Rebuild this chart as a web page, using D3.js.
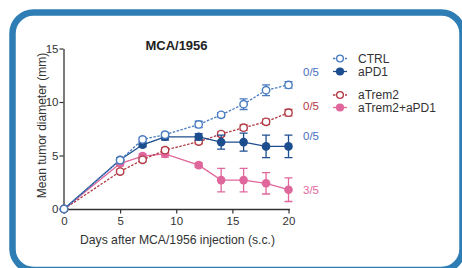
<!DOCTYPE html>
<html><head><meta charset="utf-8">
<script src="https://cdn.jsdelivr.net/npm/d3@7"></script>
<style>body{margin:0;background:#fff}svg{display:block}text{font-family:"Liberation Sans",Arial,sans-serif}</style>
</head><body><svg id="c" width="462" height="268"></svg>
<script>
const days = [0,5,7,9,12,14,16,18,20];
const seriesNames = ["CTRL","aPD1","aTrem2","aTrem2+aPD1"];
const ctrlMean = [0,4.55,6.5,6.95,7.9,8.8,9.8,11.1,11.6];
const ctrlErr  = [0,0.2,0.2,0.2,0.3,0.2,0.5,0.5,0.3];
const apd1Mean = [0,4.6,6.0,6.75,6.75,6.25,6.25,5.85,5.85];
const apd1Err  = [0,0.2,0.2,0.3,0.3,0.65,0.85,1.05,1.05];
const trem2Mean = [0,3.5,4.6,5.5,6.3,7.0,7.6,8.15,9.0];
const trem2Err  = [0,0.2,0.2,0.2,0.2,0.2,0.25,0.25,0.3];
const comboMean = [0,4.25,4.95,5.15,4.1,2.7,2.7,2.4,1.8];
const comboErr  = [0,0.2,0.2,0.3,0.2,1.1,1.1,1.0,1.1];
const fractions = ["0/5","0/5","0/5","3/5"];
const xTicks = [0,5,10,15,20];
const yTicks = [0,5,10,15];

const svg = d3.select("#c");
// frame
svg.append("rect").attr("x",12.5).attr("y",12.5).attr("width",450).attr("height",257.5)
  .attr("rx",21).attr("fill","#fff").attr("stroke","#2f7db5").attr("stroke-width",6.5);

const x = d3.scaleLinear().domain([0,20]).range([64,288.5]);
const y = d3.scaleLinear().domain([0,15]).range([209,48.5]);

const styles = [
  {name:seriesNames[0], mean:ctrlMean, err:ctrlErr, color:"#4a7cc0", open:true, dash:"2.5,1.5"},
  {name:seriesNames[1], mean:apd1Mean, err:apd1Err, color:"#1c4d8e", open:false, dash:null},
  {name:seriesNames[2], mean:trem2Mean, err:trem2Err, color:"#b23a45", open:true, dash:"2.5,1.5"},
  {name:seriesNames[3], mean:comboMean, err:comboErr, color:"#e0679c", open:false, dash:null}
];

// axes
const ax = svg.append("g").attr("transform","translate(0,209.5)")
  .call(d3.axisBottom(x).tickValues(xTicks).tickSize(4).tickSizeOuter(0).tickPadding(3));
const ay = svg.append("g").attr("transform","translate(63.5,0)")
  .call(d3.axisLeft(y).tickValues(yTicks).tickSize(4).tickSizeOuter(0).tickPadding(1));
[ax,ay].forEach(g=>{
  g.select(".domain").attr("stroke","#333").attr("stroke-width",1.3);
  g.selectAll(".tick line").attr("stroke","#333").attr("stroke-width",1.2);
  g.selectAll(".tick text").attr("fill","#333").style("font-size","11.5px");
});
ax.select(".domain").attr("d","M60,0H290");

const line = d3.line().x((d,i)=>x(days[i])).y(d=>y(d));
const order = [3,2,1,0];
order.forEach(k=>{
  const s = styles[k];
  const g = svg.append("g");
  g.append("path").attr("d",line(s.mean)).attr("fill","none").attr("stroke",s.color)
    .attr("stroke-width",1.3).attr("stroke-dasharray",s.dash);
  s.mean.forEach((m,i)=>{
    const e = s.err[i]; if(!e) return;
    const cx = x(days[i]);
    g.append("path").attr("d",`M${cx-4},${y(m+e)}H${cx+4}M${cx},${y(m+e)}V${y(m-e)}M${cx-4},${y(m-e)}H${cx+4}`)
      .attr("stroke",s.color).attr("stroke-width",1.3).attr("fill","none");
  });
  g.selectAll("circle").data(s.mean).join("circle")
    .attr("cx",(d,i)=>x(days[i])).attr("cy",d=>y(d)).attr("r",s.open?3.7:4.3)
    .attr("fill",s.open?"#fff":s.color).attr("stroke",s.color).attr("stroke-width",s.open?1.4:0);
});

// fraction labels
const fracPos = [{y:11.6+1.2, c:"#4a6fbd"},{y:9.0+0.6, c:"#b23a45"},{y:5.85+0.95, c:"#4a6fbd"},{y:1.8, c:"#e0679c"}];
fracPos.forEach((f,i)=>{
  svg.append("text").attr("x",303).attr("y",y(f.y)).attr("dy","0.35em")
    .attr("fill",f.c).style("font-size","11.5px").text(fractions[i]);
});

// title
svg.append("text").attr("x",176.5).attr("y",45.5).attr("dy","0.35em").attr("text-anchor","middle")
  .attr("fill","#222").style("font-size","13px").style("font-weight","bold").text("MCA/1956");

// axis titles
svg.append("text").attr("transform","translate(42,125.5) rotate(-90)").attr("text-anchor","middle")
  .attr("dy","0.35em").attr("fill","#333").style("font-size","12px").text("Mean tumor diameter (mm)");
svg.append("text").attr("x",177.5).attr("y",240).attr("dy","0.35em").attr("text-anchor","middle")
  .attr("fill","#333").style("font-size","12.2px").text("Days after MCA/1956 injection (s.c.)");

// legend
const legY = [58.5,71.5,95,107.5];
styles.forEach((s,i)=>{
  const g = svg.append("g").attr("transform",`translate(340,${legY[i]})`);
  g.append("line").attr("x1",-7).attr("x2",7).attr("stroke",s.color).attr("stroke-width",1.3)
    .attr("stroke-dasharray",s.dash);
  g.append("circle").attr("r",s.open?3.4:4.1).attr("fill",s.open?"#fff":s.color)
    .attr("stroke",s.color).attr("stroke-width",s.open?1.3:0);
  g.append("text").attr("x",18).attr("dy","0.35em").attr("fill","#333")
    .style("font-size","12px").text(s.name);
});
</script></body></html>
